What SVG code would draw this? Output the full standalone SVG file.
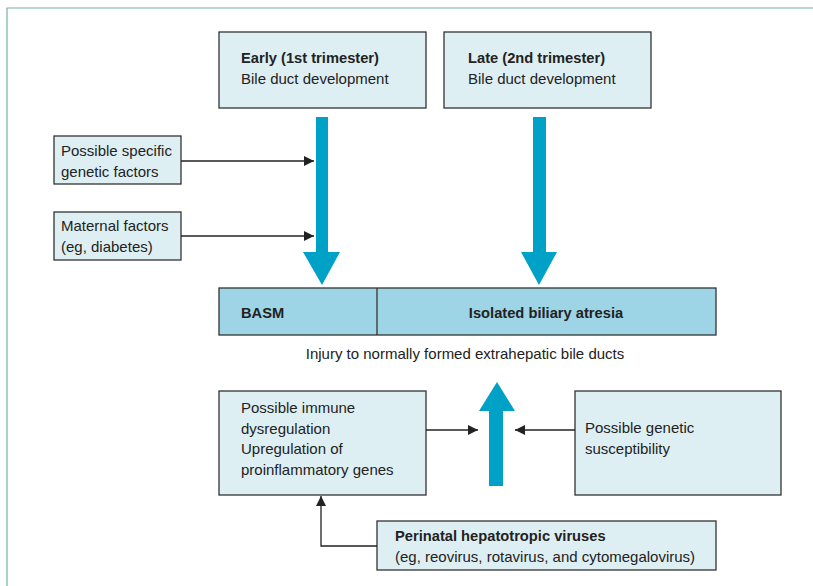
<svg xmlns="http://www.w3.org/2000/svg" width="813" height="586" viewBox="0 0 813 586">
<style>
.box{fill:#deeff4;stroke:#333;stroke-width:1.3}
.bar{fill:#9dd4e6;stroke:#333;stroke-width:1.3}
.t{font-family:"Liberation Sans",Arial,sans-serif;font-size:15px;fill:#222}
.b{font-weight:bold;font-size:14.7px}
.c{stroke:#222;stroke-width:1.3;fill:none}
.big{fill:#00a1c6}
</style>
<defs>
<marker id="ah" viewBox="0 0 10 10" refX="10" refY="5" markerWidth="10" markerHeight="10" markerUnits="userSpaceOnUse" orient="auto">
<path d="M0,0 L10,5 L0,10 Z" fill="#222"/>
</marker>
</defs>
<rect width="813" height="586" fill="#fff"/>
<path d="M7,586 V8 H813" fill="none" stroke="#74b399" stroke-width="1.2"/>

<g id="early">
<rect class="box" x="219" y="32" width="207" height="76"/>
<text class="t b" x="241" y="63">Early (1st trimester)</text>
<text class="t" x="241" y="84">Bile duct development</text>
</g>
<g id="late">
<rect class="box" x="444" y="32" width="207" height="76"/>
<text class="t b" x="468" y="63">Late (2nd trimester)</text>
<text class="t" x="468" y="84">Bile duct development</text>
</g>
<g id="genetic">
<rect class="box" x="54" y="136" width="127" height="48"/>
<text class="t" x="61" y="156">Possible specific</text>
<text class="t" x="61" y="177">genetic factors</text>
</g>
<g id="maternal">
<rect class="box" x="54" y="212" width="127" height="48"/>
<text class="t" x="61" y="231">Maternal factors</text>
<text class="t" x="61" y="252">(eg, diabetes)</text>
</g>
<g id="outcome">
<rect class="bar" x="219" y="288" width="497" height="47"/>
<line x1="377" y1="288" x2="377" y2="335" stroke="#333" stroke-width="1.3"/>
<text class="t b" x="241" y="318">BASM</text>
<text class="t b" x="546" y="318" text-anchor="middle">Isolated biliary atresia</text>
</g>
<g id="injury">
<text class="t" x="465" y="359" text-anchor="middle">Injury to normally formed extrahepatic bile ducts</text>
</g>
<g id="immune">
<rect class="box" x="219" y="391" width="207" height="104"/>
<text class="t" x="241" y="413">Possible immune</text>
<text class="t" x="241" y="434">dysregulation</text>
<text class="t" x="241" y="454">Upregulation of</text>
<text class="t" x="241" y="475">proinflammatory genes</text>
</g>
<g id="susceptibility">
<rect class="box" x="575" y="391" width="206" height="104"/>
<text class="t" x="585" y="433">Possible genetic</text>
<text class="t" x="585" y="454">susceptibility</text>
</g>
<g id="viruses">
<rect class="box" x="377" y="521" width="339" height="49"/>
<text class="t b" x="395" y="541">Perinatal hepatotropic viruses</text>
<text class="t" x="395" y="562">(eg, reovirus, rotavirus, and cytomegalovirus)</text>
</g>

<g id="connectors">
<path class="big" d="M316,117 H328 V252 H340 L322,285 L303,252 H316 Z"/>
<path class="big" d="M533,117 H546 V252 H557 L539,285 L521,252 H533 Z"/>
<path class="big" d="M489,486 V411 H479 L497,382 L515,411 H503 V486 Z"/>
<line class="c" x1="181" y1="161" x2="314" y2="161" marker-end="url(#ah)"/>
<line class="c" x1="181" y1="236" x2="314" y2="236" marker-end="url(#ah)"/>
<line class="c" x1="426" y1="430" x2="478" y2="430" marker-end="url(#ah)"/>
<line class="c" x1="575" y1="430" x2="515" y2="430" marker-end="url(#ah)"/>
<path class="c" d="M377,546 H321 V496" marker-end="url(#ah)"/>
</g>
</svg>
